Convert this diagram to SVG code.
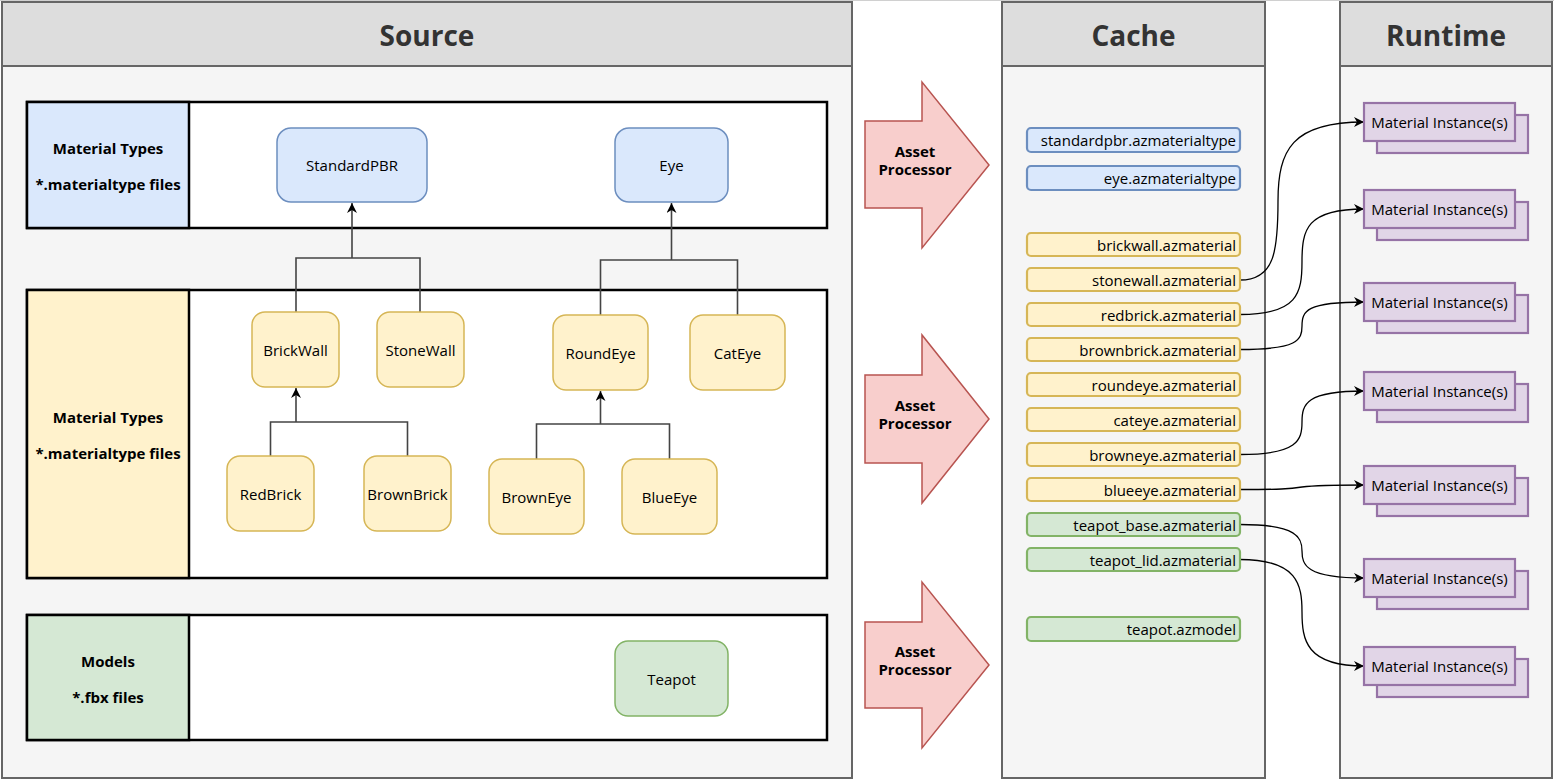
<svg xmlns="http://www.w3.org/2000/svg" width="1554" height="780" viewBox="0 0 1554 780">
<defs>
<style>
text{font-family:"Open Sans","Noto Sans","Liberation Sans",sans-serif;dominant-baseline:central;}
.panel{fill:#f5f5f5;stroke:#666666;stroke-width:2;}
.phead{fill:#dddddd;stroke:#666666;stroke-width:2;}
.ptitle{font-size:28px;font-weight:bold;fill:#333333;text-anchor:middle;}
.lane{fill:#ffffff;stroke:#000000;stroke-width:2.5;}
.lbl{font-size:15px;font-weight:bold;fill:#000000;text-anchor:middle;}
.blue{fill:#dae8fc;stroke:#6c8ebf;}
.yel{fill:#fff2cc;stroke:#d6b656;}
.grn{fill:#d5e8d4;stroke:#82b366;}
.node{stroke-width:1.5;}
.ntxt{font-size:15px;fill:#000000;text-anchor:middle;}
.citem{stroke-width:2.2;}
.ctxt{font-size:15px;fill:#000000;text-anchor:end;}
.mi{fill:#e1d5e7;stroke:#9673a6;stroke-width:2.2;}
.mitxt{font-size:15px;fill:#000000;text-anchor:middle;}
.ap{fill:#f8cecc;stroke:#b85450;stroke-width:1.5;}
.aptxt{font-size:15px;font-weight:bold;fill:#000000;text-anchor:middle;}
.tree{fill:none;stroke:#444444;stroke-width:1.6;}
.curve{fill:none;stroke:#000000;stroke-width:1.3;}
</style>
<marker id="arr" markerWidth="12" markerHeight="10" refX="10" refY="5" orient="auto" markerUnits="userSpaceOnUse">
<path d="M0,0 L10,5 L0,10 L3,5 z" fill="#000000"/>
</marker>
</defs>
<rect x="0" y="0" width="1554" height="780" fill="#ffffff"/>
<line x1="0" y1="0.5" x2="1554" y2="0.5" stroke="#d0d0d0" stroke-width="1"/>

<g id="panel-source">
<rect class="panel" x="2" y="2" width="850" height="776"/>
<rect class="phead" x="2" y="2" width="850" height="64"/>
<text class="ptitle" x="427" y="35">Source</text>
</g>
<g id="panel-cache">
<rect class="panel" x="1002" y="2" width="263" height="776"/>
<rect class="phead" x="1002" y="2" width="263" height="64"/>
<text class="ptitle" x="1133.5" y="35">Cache</text>
</g>
<g id="panel-runtime">
<rect class="panel" x="1340" y="2" width="212" height="776"/>
<rect class="phead" x="1340" y="2" width="212" height="64"/>
<text class="ptitle" x="1446" y="35">Runtime</text>
</g>

<g id="lane-materialtypes">
<rect class="lane" x="27" y="102" width="800" height="126"/>
<rect x="27" y="102" width="162" height="126" fill="#dae8fc" stroke="#000000" stroke-width="2.5"/>
<text class="lbl" x="108" y="148">Material Types</text>
<text class="lbl" x="108" y="184">*.materialtype files</text>
</g>
<g id="lane-materials">
<rect class="lane" x="27" y="290" width="800" height="288"/>
<rect x="27" y="290" width="162" height="288" fill="#fff2cc" stroke="#000000" stroke-width="2.5"/>
<text class="lbl" x="108" y="417">Material Types</text>
<text class="lbl" x="108" y="453">*.materialtype files</text>
</g>
<g id="lane-models">
<rect class="lane" x="27" y="615" width="800" height="125"/>
<rect x="27" y="615" width="162" height="125" fill="#d5e8d4" stroke="#000000" stroke-width="2.5"/>
<text class="lbl" x="108" y="661">Models</text>
<text class="lbl" x="108" y="697">*.fbx files</text>
</g>

<g id="connectors">
<path class="tree" d="M296,312 V258 H420 V312 M352,258 V203" marker-end="url(#arr)"/>
<path class="tree" d="M600.5,315 V260 H737.5 V315 M671.5,260 V203" marker-end="url(#arr)"/>
<path class="tree" d="M270.5,456 V422 H407.5 V456 M296,422 V388" marker-end="url(#arr)"/>
<path class="tree" d="M536.5,459 V424 H669.5 V459 M600.5,424 V391" marker-end="url(#arr)"/>
<path class="curve" d="M1240,280 C1275,280 1278,250 1278,201 C1278,150 1292,122 1364,122" marker-end="url(#arr)"/>
<path class="curve" d="M1240,314.5 C1298,314.5 1302,293 1302,261.5 C1302,230 1306,209 1364,209" marker-end="url(#arr)"/>
<path class="curve" d="M1240,349.5 C1298,349.5 1302,340 1302,326 C1302,311 1306,302 1364,302" marker-end="url(#arr)"/>
<path class="curve" d="M1240,454.5 C1298,454.5 1302,440 1302,422 C1302,404 1306,391 1364,391" marker-end="url(#arr)"/>
<path class="curve" d="M1240,489.5 C1280,489.5 1290,489 1302,487 C1314,485.5 1330,485 1364,485" marker-end="url(#arr)"/>
<path class="curve" d="M1240,524.5 C1298,524.5 1302,538 1302,551 C1302,565 1306,578 1364,578" marker-end="url(#arr)"/>
<path class="curve" d="M1240,559.5 C1298,559.5 1302,585 1302,612 C1302,640 1306,666 1364,666" marker-end="url(#arr)"/>
</g>

<g id="node-standardpbr"><rect class="node blue" x="277" y="128" width="150" height="74" rx="14"/><text class="ntxt" x="352" y="165">StandardPBR</text></g>
<g id="node-eye"><rect class="node blue" x="615" y="128" width="113" height="74" rx="14"/><text class="ntxt" x="671.5" y="165">Eye</text></g>
<g id="node-brickwall"><rect class="node yel" x="252" y="312" width="87" height="75" rx="13"/><text class="ntxt" x="295.5" y="349.5">BrickWall</text></g>
<g id="node-stonewall"><rect class="node yel" x="377" y="312" width="87" height="75" rx="13"/><text class="ntxt" x="420.5" y="349.5">StoneWall</text></g>
<g id="node-roundeye"><rect class="node yel" x="553" y="315" width="95" height="75" rx="13"/><text class="ntxt" x="600.5" y="352.5">RoundEye</text></g>
<g id="node-cateye"><rect class="node yel" x="690" y="315" width="95" height="75" rx="13"/><text class="ntxt" x="737.5" y="352.5">CatEye</text></g>
<g id="node-redbrick"><rect class="node yel" x="227" y="456" width="87" height="75" rx="13"/><text class="ntxt" x="270.5" y="493.5">RedBrick</text></g>
<g id="node-brownbrick"><rect class="node yel" x="364" y="456" width="87" height="75" rx="13"/><text class="ntxt" x="407.5" y="493.5">BrownBrick</text></g>
<g id="node-browneye"><rect class="node yel" x="489" y="459" width="95" height="75" rx="13"/><text class="ntxt" x="536.5" y="496.5">BrownEye</text></g>
<g id="node-blueeye"><rect class="node yel" x="622" y="459" width="95" height="75" rx="13"/><text class="ntxt" x="669.5" y="496.5">BlueEye</text></g>
<g id="node-teapot"><rect class="node grn" x="615" y="641" width="113" height="75" rx="13"/><text class="ntxt" x="671.5" y="678.5">Teapot</text></g>

<g id="ap-1"><path class="ap" d="M865,121 H922 V82 L989,165 L922,248 V208 H865 Z"/><text class="aptxt" x="915" y="151">Asset</text><text class="aptxt" x="915" y="169">Processor</text></g>
<g id="ap-2"><path class="ap" d="M865,375 H922 V335 L989,419 L922,503 V463 H865 Z"/><text class="aptxt" x="915" y="405">Asset</text><text class="aptxt" x="915" y="423">Processor</text></g>
<g id="ap-3"><path class="ap" d="M865,622 H922 V582 L989,665 L922,748 V708 H865 Z"/><text class="aptxt" x="915" y="651">Asset</text><text class="aptxt" x="915" y="669">Processor</text></g>

<g id="cache-standardpbr"><rect class="citem blue" x="1027" y="128" width="213" height="24" rx="4"/><text class="ctxt" x="1236" y="140">standardpbr.azmaterialtype</text></g>
<g id="cache-eye"><rect class="citem blue" x="1027" y="166" width="213" height="24" rx="4"/><text class="ctxt" x="1236" y="178">eye.azmaterialtype</text></g>
<g id="cache-brickwall"><rect class="citem yel" x="1027" y="233" width="213" height="23" rx="4"/><text class="ctxt" x="1236" y="244.5">brickwall.azmaterial</text></g>
<g id="cache-stonewall"><rect class="citem yel" x="1027" y="268" width="213" height="23" rx="4"/><text class="ctxt" x="1236" y="279.5">stonewall.azmaterial</text></g>
<g id="cache-redbrick"><rect class="citem yel" x="1027" y="303" width="213" height="23" rx="4"/><text class="ctxt" x="1236" y="314.5">redbrick.azmaterial</text></g>
<g id="cache-brownbrick"><rect class="citem yel" x="1027" y="338" width="213" height="23" rx="4"/><text class="ctxt" x="1236" y="349.5">brownbrick.azmaterial</text></g>
<g id="cache-roundeye"><rect class="citem yel" x="1027" y="373" width="213" height="23" rx="4"/><text class="ctxt" x="1236" y="384.5">roundeye.azmaterial</text></g>
<g id="cache-cateye"><rect class="citem yel" x="1027" y="408" width="213" height="23" rx="4"/><text class="ctxt" x="1236" y="419.5">cateye.azmaterial</text></g>
<g id="cache-browneye"><rect class="citem yel" x="1027" y="443" width="213" height="23" rx="4"/><text class="ctxt" x="1236" y="454.5">browneye.azmaterial</text></g>
<g id="cache-blueeye"><rect class="citem yel" x="1027" y="478" width="213" height="23" rx="4"/><text class="ctxt" x="1236" y="489.5">blueeye.azmaterial</text></g>
<g id="cache-teapot-base"><rect class="citem grn" x="1027" y="513" width="213" height="23" rx="4"/><text class="ctxt" x="1236" y="524.5">teapot_base.azmaterial</text></g>
<g id="cache-teapot-lid"><rect class="citem grn" x="1027" y="548" width="213" height="23" rx="4"/><text class="ctxt" x="1236" y="559.5">teapot_lid.azmaterial</text></g>
<g id="cache-teapot-model"><rect class="citem grn" x="1027" y="617" width="213" height="24" rx="4"/><text class="ctxt" x="1236" y="629">teapot.azmodel</text></g>

<g id="mi-1"><rect class="mi" x="1377" y="115" width="151" height="38"/><rect class="mi" x="1364" y="103" width="151" height="38"/><text class="mitxt" x="1439.5" y="122">Material Instance(s)</text></g>
<g id="mi-2"><rect class="mi" x="1377" y="202" width="151" height="38"/><rect class="mi" x="1364" y="190" width="151" height="38"/><text class="mitxt" x="1439.5" y="209">Material Instance(s)</text></g>
<g id="mi-3"><rect class="mi" x="1377" y="295" width="151" height="38"/><rect class="mi" x="1364" y="283" width="151" height="38"/><text class="mitxt" x="1439.5" y="302">Material Instance(s)</text></g>
<g id="mi-4"><rect class="mi" x="1377" y="384" width="151" height="38"/><rect class="mi" x="1364" y="372" width="151" height="38"/><text class="mitxt" x="1439.5" y="391">Material Instance(s)</text></g>
<g id="mi-5"><rect class="mi" x="1377" y="478" width="151" height="38"/><rect class="mi" x="1364" y="466" width="151" height="38"/><text class="mitxt" x="1439.5" y="485">Material Instance(s)</text></g>
<g id="mi-6"><rect class="mi" x="1377" y="571" width="151" height="38"/><rect class="mi" x="1364" y="559" width="151" height="38"/><text class="mitxt" x="1439.5" y="578">Material Instance(s)</text></g>
<g id="mi-7"><rect class="mi" x="1377" y="659" width="151" height="38"/><rect class="mi" x="1364" y="647" width="151" height="38"/><text class="mitxt" x="1439.5" y="666">Material Instance(s)</text></g>
</svg>
